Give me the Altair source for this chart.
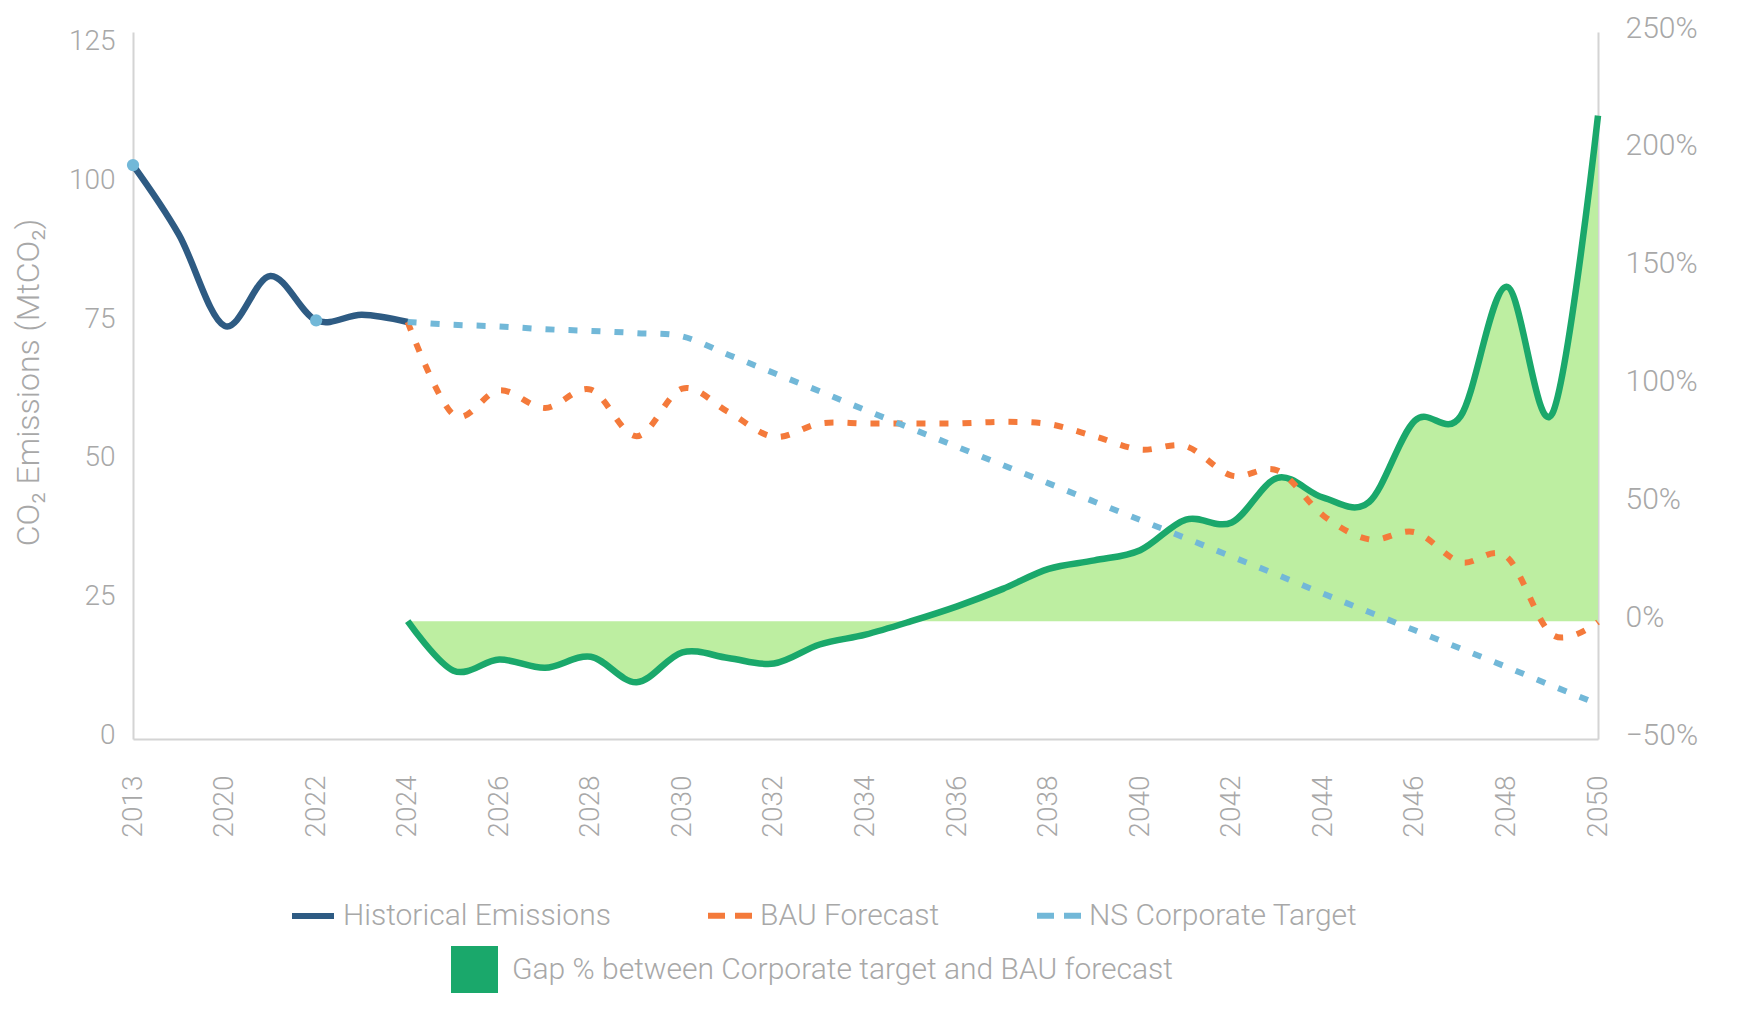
import altair as alt
import pandas as pd

# ---------------- data ----------------
categories = ["2013"] + [str(y) for y in range(2019, 2051)]
tick_labels = ["2013"] + [str(y) for y in range(2020, 2051, 2)]

hist_years = ["2013", "2019", "2020", "2021", "2022", "2023", "2024"]
historical = [103.5, 91.0, 74.5, 83.5, 75.5, 76.5, 75.2]

fc_years = [str(y) for y in range(2024, 2051)]
bau = [75.2, 58.5, 62.9, 59.7, 63.0, 54.6, 63.2, 59.0, 54.5, 56.9,
       56.9, 56.9, 56.9, 57.2, 56.8, 54.6, 52.2, 52.8, 47.5, 48.4,
       40.3, 36.0, 37.3, 31.9, 32.9, 18.8, 21.1]
target = [75.2, 74.7, 74.4, 73.9, 73.6, 73.2, 72.6, 69.3, 66.0, 62.7,
          59.3, 56.0, 52.7, 49.4, 46.1, 42.8, 39.5, 36.2, 32.9, 29.6,
          26.2, 22.9, 19.6, 16.3, 13.0, 9.6, 6.3]
gap_pct = [0.0, -21.0, -16.3, -19.8, -15.1, -25.9, -13.2, -15.6, -18.0, -9.9,
           -5.7, 0.0, 6.3, 13.7, 22.2, 25.8, 30.1, 43.1, 41.9, 60.8,
           52.4, 50.6, 85.1, 87.0, 141.9, 88.0, 214.5]

marker_years = ["2013", "2022"]
marker_values = [103.5, 75.5]

hist_name = "Historical Emissions"
fc_names = ["BAU Forecast", "NS Corporate Target"]
hist_color = "#2E5B83"
fc_colors = ["#F47A3B", "#72B8D8"]
gap_label = "Gap % between Corporate target and BAU forecast"

left_ticks = [0, 25, 50, 75, 100, 125]
right_ticks = [-0.5, 0, 0.5, 1.0, 1.5, 2.0, 2.5]

# ---------------- frames ----------------
hist_df = pd.DataFrame({"year": hist_years, "value": historical, "series": hist_name})
fc_df = pd.concat([
    pd.DataFrame({"year": fc_years, "value": bau, "series": fc_names[0]}),
    pd.DataFrame({"year": fc_years, "value": target, "series": fc_names[1]}),
], ignore_index=True)
markers_df = pd.DataFrame({"year": marker_years, "value": marker_values})
gap_df = pd.DataFrame({"year": fc_years, "gap": [g / 100 for g in gap_pct], "leg": gap_label})

GRAY = "#A8A8A8"
AXC = "#D4D4D4"
FONT = "Roboto"

x_axis = alt.Axis(values=tick_labels, labelAngle=270, labelPadding=36, labelFontSize=28,
                  labelColor=GRAY, labelFontWeight=300, labelFont=FONT, ticks=False, tickSize=0,
                  domainColor=AXC, domainWidth=2, grid=False, title=None, labelOverlap=False)
x_enc = alt.X("year:O", scale=alt.Scale(type="point", domain=categories, padding=0), axis=x_axis)

left_axis = alt.Axis(orient="left", values=left_ticks, labelFontSize=28, labelPadding=18,
                     labelColor=GRAY, labelFontWeight=300, labelFont=FONT, ticks=False, tickSize=0,
                     domainColor=AXC, domainWidth=2, grid=False, labelOffset=-4, labelFlush=False,
                     title="CO₂ Emissions (MtCO₂)", titleFontSize=32, titleFontWeight=300,
                     titleColor=GRAY, titleFont=FONT, titleAngle=270, titleX=-105, titleY=350,
                     titleAlign="center", titleBaseline="middle")
right_axis = alt.Axis(orient="right", values=right_ticks, format=".0%", labelFontSize=30,
                      labelPadding=27, labelColor=GRAY, labelFontWeight=300, labelFont=FONT,
                      ticks=False, tickSize=0, domainColor=AXC, domainWidth=2, grid=False,
                      labelOffset=-4, labelFlush=False, title=None)

y_left = alt.Y("value:Q", scale=alt.Scale(domain=[0, 127.5], nice=False, zero=False), axis=left_axis)
y_right = alt.Y("gap:Q", scale=alt.Scale(domain=[-0.5, 2.5], nice=False, zero=False), axis=right_axis)

common_legend = dict(orient="none", direction="horizontal", title=None, labelFontSize=30,
                     labelFont=FONT, labelFontWeight=300, labelColor=GRAY, padding=0,
                     labelLimit=900)

hist_line = alt.Chart(hist_df).mark_line(interpolate="cardinal", strokeWidth=6.5).encode(
    x=x_enc,
    y=y_left,
    stroke=alt.Stroke("series:N", scale=alt.Scale(domain=[hist_name], range=[hist_color]),
                      legend=alt.Legend(legendX=156, legendY=860, symbolType="stroke",
                                        symbolSize=1764, symbolStrokeWidth=6, labelOffset=6,
                                        **common_legend)),
)
fc_lines = alt.Chart(fc_df).mark_line(interpolate="cardinal", strokeWidth=6, strokeCap="butt",
                                      strokeDash=[9, 14]).encode(
    x=x_enc,
    y=y_left,
    color=alt.Color("series:N", scale=alt.Scale(domain=fc_names, range=fc_colors),
                    legend=alt.Legend(legendX=572, legendY=858, symbolType="stroke",
                                      symbolSize=2025, symbolStrokeWidth=6,
                                      symbolDash=[17, 10], labelOffset=4,
                                      columnPadding=85, **common_legend)),
)
markers = alt.Chart(markers_df).mark_point(filled=True, size=150, opacity=1, color="#72B8D8").encode(
    x=x_enc,
    y=y_left,
)
left_layer = alt.layer(hist_line, fc_lines, markers)

area = alt.Chart(gap_df).mark_area(interpolate="cardinal", color="#BDEEA1").encode(
    x=x_enc,
    y=y_right,
    y2=alt.datum(0),
)
gap_line = alt.Chart(gap_df).mark_line(interpolate="cardinal", strokeWidth=6.5, color="#1AA86B").encode(
    x=x_enc,
    y=y_right,
)
gap_legend = alt.Chart(gap_df).mark_point(shape="square", filled=True, opacity=0).encode(
    x=x_enc,
    y=y_right,
    fill=alt.Fill("leg:N", scale=alt.Scale(domain=[gap_label], range=["#1AA86B"]),
                  legend=alt.Legend(legendX=318, legendY=914, symbolType="square",
                                    symbolSize=2209, symbolOpacity=1, symbolStrokeWidth=0,
                                    labelOffset=14, **common_legend)),
)
right_layer = alt.layer(area, gap_line, gap_legend)

chart = alt.layer(right_layer, left_layer).resolve_scale(
    y="independent", color="independent", fill="independent", stroke="independent"
).properties(
    width=1465, height=707,
    autosize=alt.AutoSizeParams(type="none"),
    padding={"left": 125, "top": 24, "right": 130, "bottom": 262},
).configure(font=FONT).configure_view(strokeWidth=0)

chart.save("out.html", embed_options={"renderer": "svg", "actions": False})
